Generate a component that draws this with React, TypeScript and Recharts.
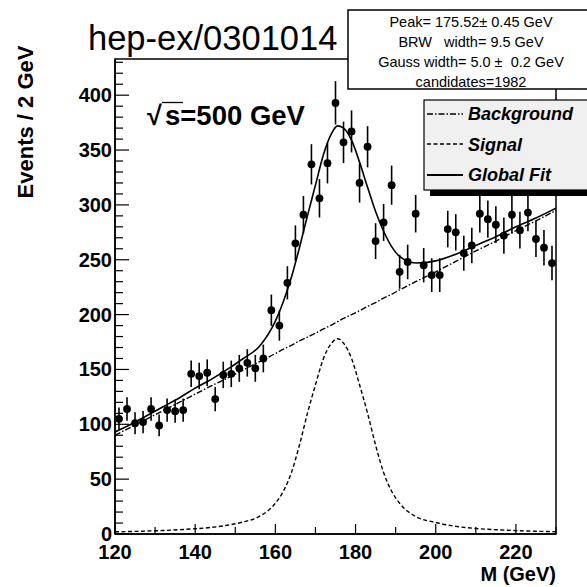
import React from 'react';
import { ComposedChart, Line, Scatter, ErrorBar, XAxis, YAxis, ReferenceArea } from 'recharts';

// Measured data: bin centres (GeV) and events per 2 GeV
const massBins = [121,123,125,127,129,131,133,135,137,139,141,143,145,147,149,151,153,155,157,159,161,163,165,167,169,171,173,175,177,179,181,183,185,187,189,191,193,195,197,199,201,203,205,207,209,211,213,215,217,219,221,223,225,227,229];
const counts = [105,114,101,102,114,99,113,112,113,146,144,147,123,145,146,151,156,151,160,204,190,229,265,291,337,306,338,393,357,367,320,353,267,284,318,239,248,292,245,236,236,278,275,256,263,292,287,282,272,291,277,293,269,261,247];

// Fit curves
const fitMass = [120,124,128,132,136,140,144,148,152,156,160,162,164,166,168,170,172,174,175.5,177,179,181,183,185,187,189,191,195,200,205,210,215,220,225,230];
const backgroundFit = [90,97.5,105,112.5,120,127.5,135,142,149.5,157,164.5,168.5,172,176,179.5,183,187,190.5,193.5,196.5,200,203.5,207.5,211,215,218.5,222.5,230,239,248.5,258,267,276.5,285.5,295];
const signalFit = [2,2.3,2.7,3.2,3.9,4.8,6,8,11,16,28,39,56,81,110,136,160,174,178,174,160,136,110,81,56,39,28,16,10.5,7,5,3.9,3.1,2.5,2.1];
const globalFit = [93,100,108,116,124,133,141,150,160,171,194,212,234,261,290,318,346,365,372,370,359,339,316,294,276,262,253,247,249,255,263,271,280,288,297];

const xTicks = [120,130,140,150,160,170,180,190,200,210,220,230];
const xLabels = [120,140,160,180,200,220];
const yTicks = [0,10,20,30,40,50,60,70,80,90,100,110,120,130,140,150,160,170,180,190,200,210,220,230,240,250,260,270,280,290,300,310,320,330,340,350,360,370,380,390,400,410,420,430];
const yLabels = [0,50,100,150,200,250,300,350,400];

const statsLines = ['Peak= 175.52\u00B1 0.45 GeV', 'BRW   width= 9.5 GeV', 'Gauss width= 5.0 \u00B1  0.2 GeV', 'candidates=1982'];
const legendItems = [
  { name: 'Background', dash: '6 2 1.5 2', width: 1.4 },
  { name: 'Signal', dash: '4 2.5', width: 1.4 },
  { name: 'Global Fit', dash: undefined as string | undefined, width: 2 },
];

const FONT = '"Liberation Sans", Arial, Helvetica, sans-serif';

const points = massBins.map((m, i) => ({ m, n: counts[i], err: Math.sqrt(counts[i]) }));
const fitRows = fitMass.map((m, i) => ({ m, bg: backgroundFit[i], sig: signalFit[i], tot: globalFit[i] }));

const XTick = (props: any) => {
  const { x, y, payload } = props;
  const v = payload.value;
  const labeled = xLabels.includes(v);
  return (
    <g>
      <line x1={x} y1={y} x2={x} y2={y - (labeled ? 10 : 7)} stroke="#000" strokeWidth={1.2} />
      {labeled && (
        <text x={x} y={y + 25} textAnchor="middle" fontFamily={FONT} fontWeight="bold" fontSize={20} fill="#000">{v}</text>
      )}
    </g>
  );
};

const YTick = (props: any) => {
  const { x, y, payload } = props;
  const v = payload.value;
  const labeled = yLabels.includes(v);
  return (
    <g>
      <line x1={x} y1={y} x2={x + (labeled ? 14 : 8)} y2={y} stroke="#000" strokeWidth={1.2} />
      {labeled && (
        <text x={x - 3} y={y + 7} textAnchor="end" fontFamily={FONT} fontWeight="bold" fontSize={20} fill="#000">{v}</text>
      )}
    </g>
  );
};

const Dot = (props: any) => <circle cx={props.cx} cy={props.cy} r={3.9} fill="#000" />;

export default function App() {
  return (
    <div style={{ position: 'absolute', left: 0, top: 0, width: 587, height: 587, background: '#fff' }}>
      <ComposedChart width={587} height={587} margin={{ top: 59, right: 31, bottom: 23, left: 55 }}>
        <XAxis
          dataKey="m"
          type="number"
          domain={[120, 230]}
          ticks={xTicks}
          interval={0}
          allowDataOverflow
          height={30}
          tickSize={0}
          tickMargin={0}
          tickLine={false}
          tick={<XTick />}
          axisLine={{ stroke: '#000', strokeWidth: 1.5 }}
        />
        <YAxis
          type="number"
          domain={[0, 433]}
          ticks={yTicks}
          interval={0}
          allowDataOverflow
          width={60}
          tickSize={0}
          tickMargin={0}
          tickLine={false}
          tick={<YTick />}
          axisLine={{ stroke: '#000', strokeWidth: 1.5 }}
        />
        <ReferenceArea x1={120} x2={230} y1={0} y2={433} fill="none" fillOpacity={0} stroke="#000" strokeWidth={1.5} />
        <Line data={fitRows} dataKey="bg" type="monotone" stroke="#000" strokeWidth={1.4} strokeDasharray="6 2 1.5 2" dot={false} isAnimationActive={false} />
        <Line data={fitRows} dataKey="sig" type="monotone" stroke="#000" strokeWidth={1.4} strokeDasharray="4 2.5" dot={false} isAnimationActive={false} />
        <Line data={fitRows} dataKey="tot" type="monotone" stroke="#000" strokeWidth={1.6} dot={false} isAnimationActive={false} />
        <Scatter data={points} dataKey="n" shape={<Dot />} isAnimationActive={false}>
          <ErrorBar dataKey="err" direction="y" width={0} stroke="#000" strokeWidth={1.6} />
        </Scatter>
      </ComposedChart>
      <svg width={587} height={587} style={{ position: 'absolute', left: 0, top: 0, pointerEvents: 'none' }}>
        <text x={88} y={50} fontFamily={FONT} fontSize={34.5} fill="#000">hep-ex/0301014</text>
        <g fontFamily={FONT} fontWeight="bold" fill="#000">
          <text x={147} y={125} fontSize={27}>{'\u221A'}</text>
          <line x1={162} y1={102.5} x2={183} y2={102.5} stroke="#000" strokeWidth={1.3} />
          <text x={165} y={125} fontSize={27.5}>s=500 GeV</text>
        </g>
        <text transform="rotate(-90)" x={-122} y={33} textAnchor="middle" fontFamily={FONT} fontWeight="bold" fontSize={22} fill="#000">Events / 2 GeV</text>
        <text x={556} y={581} textAnchor="end" fontFamily={FONT} fontWeight="bold" fontSize={20} fill="#000">M (GeV)</text>
        <rect x={348} y={10} width={260} height={79} fill="#fff" stroke="#000" strokeWidth={1.5} />
        {statsLines.map((s, i) => (
          <text key={s} x={471} y={27 + i * 20} textAnchor="middle" fontFamily={FONT} fontSize={14.5} fill="#000" style={{ whiteSpace: 'pre' }}>{s}</text>
        ))}
        <rect x={430} y={106} width={200} height={90} fill="#000" />
        <rect x={424} y={100} width={200} height={90} fill="#f0f0f0" stroke="#000" strokeWidth={1.2} />
        {legendItems.map((it, i) => {
          const ly = [114, 144, 175][i];
          const ty = [120, 151, 181][i];
          return (
            <g key={it.name}>
              <line x1={427} y1={ly} x2={463} y2={ly} stroke="#000" strokeWidth={it.width} strokeDasharray={it.dash} />
              <text x={468} y={ty} fontFamily={FONT} fontWeight="bold" fontStyle="italic" fontSize={18} fill="#000">{it.name}</text>
            </g>
          );
        })}
      </svg>
    </div>
  );
}
